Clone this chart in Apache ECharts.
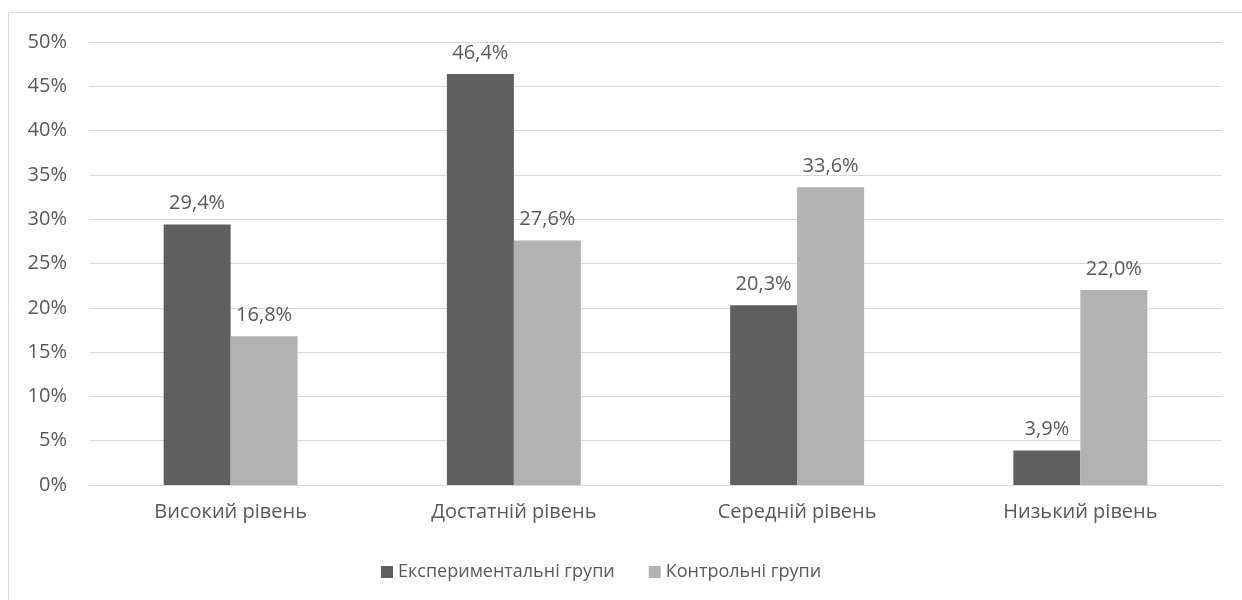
<!DOCTYPE html>
<html>
<head>
<meta charset="utf-8">
<script src="https://cdn.jsdelivr.net/npm/echarts@6/dist/echarts.min.js"></script>
<style>
  html, body { margin: 0; padding: 0; background: #fff; }
  #chart { width: 1242px; height: 600px; }
</style>
</head>
<body>
<div id="chart"></div>
<script>
const categories = ["Високий рівень", "Достатній рівень", "Середній рівень", "Низький рівень"];
const experimental = [29.4, 46.4, 20.3, 3.9];
const control = [16.8, 27.6, 33.6, 22.0];
const seriesNames = ["Експериментальні групи", "Контрольні групи"];

const font = "Open Sans";
const textColor = "#595959";

const chart = echarts.init(document.getElementById("chart"));

// підпис у форматі 29,4%
function pct(p) {
  return p.value.toFixed(1).replace(".", ",") + "%";
}

chart.setOption({
  animation: false,
  textStyle: { fontFamily: font },
  graphic: [{
    type: "rect",
    shape: { x: 8.5, y: 12.5, width: 1250, height: 600 },
    style: { fill: "none", stroke: "#d9d9d9", lineWidth: 1 },
    silent: true
  }],
  grid: { left: 89, right: 20, top: 42, bottom: 115 },
  legend: {
    top: 558,
    left: 376,
    itemWidth: 12,
    itemHeight: 12,
    itemGap: 34,
    icon: "rect",
    textStyle: { color: textColor, fontSize: 18, fontFamily: font },
    data: seriesNames
  },
  xAxis: {
    type: "category",
    data: categories,
    axisLine: { lineStyle: { color: "#d9d9d9", width: 1 } },
    axisTick: { show: false },
    axisLabel: { color: textColor, fontSize: 20, margin: 17, fontFamily: font }
  },
  yAxis: {
    type: "value",
    min: 0,
    max: 50,
    interval: 5,
    axisLine: { show: false },
    axisTick: { show: false },
    axisLabel: { color: textColor, fontSize: 20, margin: 22, formatter: "{value}%", fontFamily: font },
    splitLine: { lineStyle: { color: "#d9d9d9", width: 1 } }
  },
  series: [
    {
      name: seriesNames[0],
      type: "bar",
      data: experimental,
      barWidth: 67,
      barGap: "0%",
      itemStyle: { color: "#5f5f5f" },
      label: { show: true, position: "top", distance: 11, color: textColor, fontSize: 20, fontFamily: font, formatter: pct }
    },
    {
      name: seriesNames[1],
      type: "bar",
      data: control,
      barWidth: 67,
      barGap: "0%",
      itemStyle: { color: "#b2b2b2" },
      label: { show: true, position: "top", distance: 11, color: textColor, fontSize: 20, fontFamily: font, formatter: pct }
    }
  ]
});
</script>
</body>
</html>
